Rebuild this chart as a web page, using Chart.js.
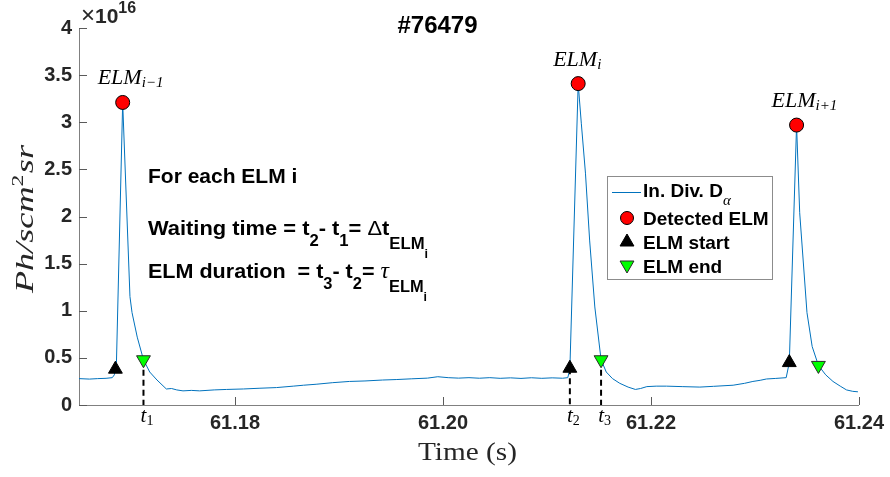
<!DOCTYPE html>
<html><head><meta charset="utf-8">
<script src="https://cdn.jsdelivr.net/npm/chart.js@4.4.1/dist/chart.umd.min.js"></script>
<style>html,body{margin:0;padding:0;background:#fff;}canvas{display:block;}</style>
</head><body>
<canvas id="c" width="890" height="477"></canvas>
<script>
// ---------- data (signal in units of 1e16 Ph/(s cm^2 sr)) ----------
const timeS = [61.1650,61.1660,61.1668,61.1676,61.1682,61.1684,61.1686,61.1692,61.1699,61.1701,61.1706,61.1712,61.1718,61.1725,61.1734,61.1739,61.1744,61.1750,61.1758,61.1766,61.1780,61.1792,61.1808,61.1824,61.1840,61.1856,61.1866,61.1878,61.1894,61.1910,61.1925,61.1942,61.1955,61.1970,61.1985,61.1995,61.2005,61.2015,61.2025,61.2035,61.2045,61.2055,61.2065,61.2075,61.2085,61.2095,61.2105,61.2115,61.2120,61.2122,61.2130,61.2133,61.2137,61.2141,61.2146,61.2152,61.2157,61.2163,61.2170,61.2178,61.2185,61.2190,61.2196,61.2205,61.2215,61.2230,61.2247,61.2260,61.2279,61.2290,61.2298,61.2305,61.2311,61.2320,61.2330,61.2333,61.2340,61.2343,61.2350,61.2355,61.2361,61.2368,61.2375,61.2382,61.2388,61.2394,61.2399];
const dAlpha = [0.280,0.275,0.280,0.283,0.290,0.320,0.45,3.21,1.15,0.98,0.72,0.48,0.35,0.265,0.17,0.175,0.160,0.150,0.155,0.150,0.160,0.165,0.170,0.178,0.185,0.200,0.210,0.220,0.237,0.250,0.255,0.265,0.270,0.278,0.285,0.300,0.290,0.285,0.290,0.284,0.290,0.283,0.288,0.282,0.289,0.283,0.288,0.284,0.290,0.38,3.41,2.99,2.46,1.75,1.04,0.48,0.35,0.28,0.23,0.19,0.165,0.175,0.195,0.200,0.200,0.195,0.190,0.198,0.210,0.230,0.250,0.262,0.276,0.282,0.290,0.45,2.97,2.04,0.98,0.62,0.42,0.32,0.25,0.20,0.16,0.145,0.14];
const peakT  = [61.1692, 61.2130, 61.2340];
const peakV  = [3.21, 3.41, 2.97];
const startT = [61.1685, 61.2122, 61.2333];
const startV = [0.38, 0.39, 0.45];
const endT   = [61.1712, 61.2152, 61.2361];
const endV   = [0.48, 0.48, 0.42];
const peakSub = ['i\u22121', 'i', 'i+1'];
const tMarkT = [61.1712, 61.2122, 61.2152];
const tMarkV = [0.48, 0.39, 0.48];
const tMarkSub = ['1', '2', '3'];
const xTickVals = [61.18, 61.20, 61.22, 61.24];
const yTickVals = [0, 0.5, 1, 1.5, 2, 2.5, 3, 3.5, 4];
const seriesNames = ['In. Div. D', 'Detected ELM', 'ELM start', 'ELM end'];
const titleText = '#76479';

// ---------- styles ----------
const SANS = '"Liberation Sans", Arial, Helvetica, sans-serif';
const SERIF = '"Liberation Serif", "Times New Roman", serif';
const TRACE = '#0072BD';
const AXIS = '#808080';
const TXT = '#262626';

const pts = (xs, ys) => xs.map((x, i) => ({x, y: ys[i]}));

function richWidth(ctx, segs) {
  let w = 0;
  for (const s of segs) { ctx.font = s.f; w += ctx.measureText(s.t).width + (s.sp || 0); }
  return w;
}
function rich(ctx, x, y, segs) {
  let cx = x;
  for (const s of segs) {
    ctx.font = s.f;
    ctx.fillText(s.t, cx, y + (s.dy || 0));
    cx += ctx.measureText(s.t).width + (s.sp || 0);
  }
  return cx - x;
}
function richFit(ctx, x, y, segs, target) {
  const w = richWidth(ctx, segs);
  ctx.save();
  ctx.translate(x, y);
  ctx.scale(target / w, 1);
  rich(ctx, 0, 0, segs);
  ctx.restore();
}
function marker(ctx, style, x, y, r, fill, stroke) {
  ctx.save();
  ctx.fillStyle = fill; ctx.strokeStyle = stroke; ctx.lineWidth = 1;
  ctx.beginPath();
  if (style === 'circle') {
    ctx.arc(x, y, r, 0, Math.PI * 2);
  } else {
    const s = style === 'up' ? 1 : -1;
    ctx.moveTo(x, y - s * r);
    ctx.lineTo(x + r * 0.866, y + s * r * 0.5);
    ctx.lineTo(x - r * 0.866, y + s * r * 0.5);
    ctx.closePath();
  }
  ctx.fill(); ctx.stroke();
  ctx.restore();
}

const dashSets = tMarkT.map((t, i) => ({
  type: 'line', label: 't' + tMarkSub[i], data: [{x: t, y: tMarkV[i]}, {x: t, y: 0}],
  borderColor: '#000', borderWidth: 2, borderDash: [6, 4], pointRadius: 0, order: 2
}));

const overlay = {
  id: 'overlay',
  afterDraw(chart) {
    const ctx = chart.ctx;
    const xs = chart.scales.x, ys = chart.scales.y;
    const ca = chart.chartArea;
    ctx.save();
    ctx.setLineDash([]);
    // inward tick marks
    ctx.fillStyle = '#5a5a5a';
    const left = Math.round(ca.left), bottom = Math.round(ca.bottom);
    for (const v of yTickVals) {
      const py = Math.round(ys.getPixelForValue(v));
      ctx.fillRect(left, py, 8, 1);
    }
    for (const v of xTickVals) {
      const px = Math.round(xs.getPixelForValue(v));
      ctx.fillRect(px, bottom - 8, 1, 8);
    }

    ctx.fillStyle = '#000';
    ctx.textBaseline = 'alphabetic';
    // title
    ctx.font = 'bold 24px ' + SANS;
    ctx.textAlign = 'center';
    ctx.fillText(titleText, 437.5, 33);
    ctx.textAlign = 'left';
    // exponent
    ctx.fillStyle = TXT;
    rich(ctx, 81, 23, [
      {t: '\u00d7', f: '24px ' + SANS},
      {t: '10', f: 'bold 21px ' + SANS},
      {t: '16', f: 'bold 16px ' + SANS, dy: -10}
    ]);

    // y-axis label
    const ySegs = [
      {t: 'Ph/scm', f: 'italic 26px ' + SERIF},
      {t: '2', f: '17px ' + SERIF, dy: -10, sp: 1},
      {t: 'sr', f: 'italic 26px ' + SERIF}
    ];
    const w = richWidth(ctx, ySegs);
    ctx.save();
    ctx.translate(33, 219);
    ctx.rotate(-Math.PI / 2);
    ctx.scale(148 / w, 1);
    rich(ctx, -w / 2, 0, ySegs);
    ctx.restore();

    // x-axis label
    richFit(ctx, 467.5 - 49.5, 460, [{t: 'Time (s)', f: '26px ' + SERIF}], 99);

    // ELM labels above the peaks
    ctx.fillStyle = '#000';
    for (let i = 0; i < peakT.length; i++) {
      const px = xs.getPixelForValue(peakT[i]), py = ys.getPixelForValue(peakV[i]);
      rich(ctx, px - 25, py - 18, [
        {t: 'ELM', f: 'italic 22px ' + SERIF},
        {t: peakSub[i], f: 'italic 15px ' + SERIF, dy: 3}
      ]);
    }
    // t labels under the dashed lines
    for (let i = 0; i < tMarkT.length; i++) {
      const px = xs.getPixelForValue(tMarkT[i]);
      ctx.font = 'italic 21px ' + SERIF;
      const tw = ctx.measureText('t').width;
      rich(ctx, px - tw / 2, 422, [
        {t: 't', f: 'italic 21px ' + SERIF},
        {t: tMarkSub[i], f: '14px ' + SERIF, dy: 3}
      ]);
    }

    // annotation text
    const B = 'bold 21px ' + SANS, S = 'bold 16px ' + SANS, SS = 'bold 12px ' + SANS;
    rich(ctx, 148, 183, [{t: 'For each ELM i', f: B}]);
    richFit(ctx, 148, 235, [
      {t: 'Waiting time = t', f: B}, {t: '2', f: S, dy: 11},
      {t: '- t', f: B}, {t: '1', f: S, dy: 11},
      {t: '= ', f: B}, {t: '\u0394', f: '21px ' + SANS}, {t: 't', f: B},
      {t: 'ELM', f: S, dy: 14}, {t: 'i', f: SS, dy: 23}
    ], 280);
    richFit(ctx, 148, 278, [
      {t: 'ELM duration  = t', f: B}, {t: '3', f: S, dy: 11},
      {t: '- t', f: B}, {t: '2', f: S, dy: 11},
      {t: '= ', f: B}, {t: '\u03c4', f: 'italic 23px ' + SERIF},
      {t: 'ELM', f: S, dy: 14}, {t: 'i', f: SS, dy: 23}
    ], 279);

    // legend
    ctx.fillStyle = '#fff';
    ctx.fillRect(607.5, 176.5, 165, 103);
    ctx.strokeStyle = '#8c8c8c'; ctx.lineWidth = 1;
    ctx.strokeRect(607.5, 176.5, 165, 103);
    ctx.strokeStyle = TRACE; ctx.lineWidth = 1;
    ctx.beginPath(); ctx.moveTo(612, 192.5); ctx.lineTo(641, 192.5); ctx.stroke();
    ctx.fillStyle = '#000';
    const LF = 'bold 19px ' + SANS;
    rich(ctx, 643, 197, [{t: seriesNames[0], f: LF}, {t: '\u03b1', f: 'italic 15px ' + SERIF, dy: 8}]);
    marker(ctx, 'circle', 627, 218, 6.5, '#ff0000', '#000');
    rich(ctx, 643, 225, [{t: seriesNames[1], f: LF}]);
    marker(ctx, 'up', 627, 242, 8, '#000', '#000');
    rich(ctx, 643, 249, [{t: seriesNames[2], f: LF}]);
    marker(ctx, 'down', 627, 265, 8, '#00ff00', '#2a2a2a');
    rich(ctx, 643, 273, [{t: seriesNames[3], f: LF}]);
    ctx.restore();
  }
};

new Chart(document.getElementById('c'), {
  type: 'scatter',
  data: {
    datasets: [
      {label: seriesNames[1], data: pts(peakT, peakV), pointStyle: 'circle', pointRadius: 7,
       backgroundColor: '#ff0000', borderColor: '#000', borderWidth: 1, order: 0},
      {label: seriesNames[2], data: pts(startT, startV), pointStyle: 'triangle', pointRadius: 8,
       backgroundColor: '#000', borderColor: '#000', borderWidth: 1, order: 0},
      {label: seriesNames[3], data: pts(endT, endV), pointStyle: 'triangle', rotation: 180, pointRadius: 8,
       backgroundColor: '#00ff00', borderColor: '#2a2a2a', borderWidth: 1, order: 0},
      ...dashSets,
      {type: 'line', label: seriesNames[0], data: pts(timeS, dAlpha), borderColor: TRACE, borderWidth: 1,
       pointRadius: 0, tension: 0, fill: false, order: 3}
    ]
  },
  options: {
    responsive: false, animation: false, devicePixelRatio: 1,
    layout: {padding: {left: 0, right: 31, top: 28, bottom: 0}},
    plugins: {legend: {display: false}, title: {display: false}, tooltip: {enabled: false}},
    scales: {
      x: {
        type: 'linear', min: 61.165, max: 61.24,
        afterBuildTicks: s => { s.ticks = xTickVals.map(v => ({value: v})); },
        afterFit: s => { s.height = 72; },
        ticks: {callback: v => Number(v).toFixed(2), color: TXT, font: {family: SANS, size: 20, weight: 'bold'},
                padding: 6, maxRotation: 0, autoSkip: false},
        grid: {display: false, drawTicks: false},
        border: {display: true, color: AXIS, width: 1}
      },
      y: {
        type: 'linear', min: 0, max: 4,
        afterBuildTicks: s => { s.ticks = yTickVals.map(v => ({value: v})); },
        afterFit: s => { s.width = 79; },
        ticks: {callback: v => String(v), color: TXT, font: {family: SANS, size: 20, weight: 'bold'},
                padding: 7, autoSkip: false},
        grid: {display: false, drawTicks: false},
        border: {display: true, color: AXIS, width: 1}
      }
    }
  },
  plugins: [overlay]
});
</script>
</body></html>
